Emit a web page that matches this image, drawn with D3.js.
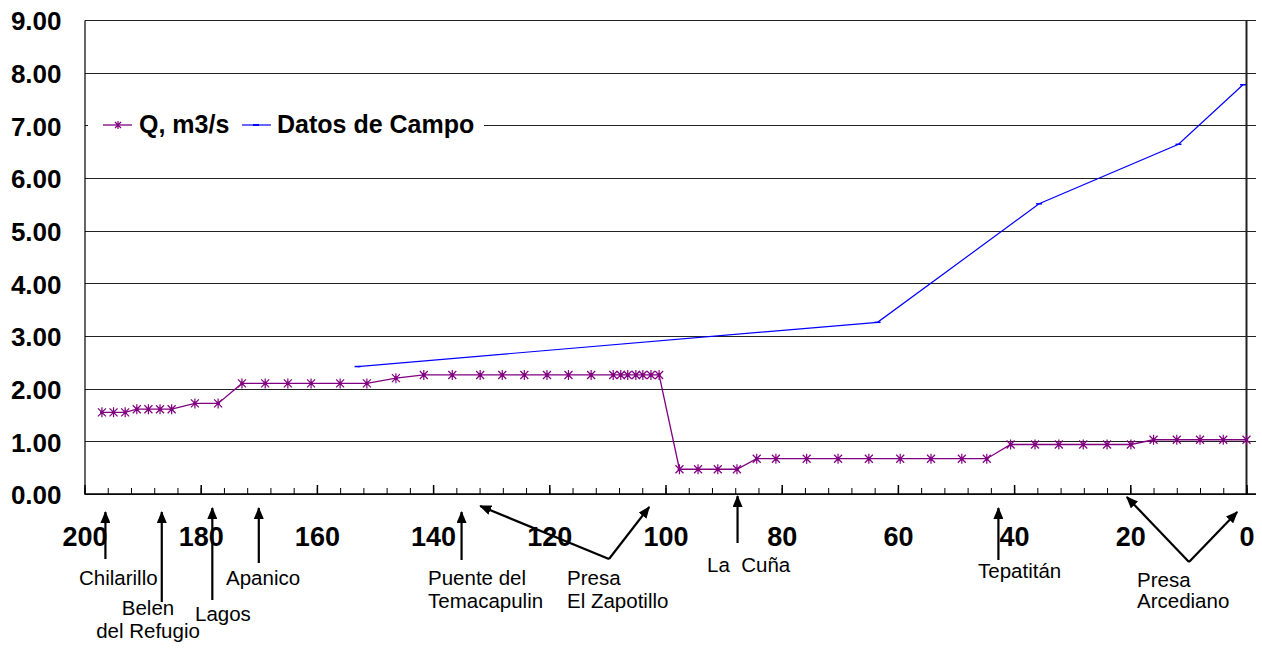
<!DOCTYPE html>
<html>
<head>
<meta charset="utf-8">
<script src="https://cdn.jsdelivr.net/npm/d3@7"></script>
<style>
	body { margin: 0; background: #fff; }
	text { font-family: Arial, "Liberation Sans", sans-serif; }
</style>
</head>
<body>
<div id="chart"></div>
<script>
// caudal Q (m3/s) a lo largo del cauce, km desde la presa Arcediano
const qKm = [197, 195, 193, 191, 189, 187, 185, 181, 177, 172.9, 168.9, 165, 161, 156, 151.4,
	146.4, 141.6, 136.7, 131.9, 128.1, 124.3, 120.4, 116.7, 112.8, 109.0, 107.7, 106.5, 105.1,
	103.9, 102.5, 101.1, 97.6, 94.4, 91.0, 87.7, 84.3, 81.0, 75.7, 70.3, 65.0, 59.6, 54.3, 49.0,
	44.7, 40.6, 36.4, 32.3, 28.1, 24.0, 19.9, 16.0, 12.0, 8.0, 4.0, 0];
const qValues = [1.55, 1.55, 1.55, 1.61, 1.61, 1.61, 1.61, 1.72, 1.72, 2.1, 2.1, 2.1, 2.1, 2.1, 2.1,
	2.2, 2.26, 2.26, 2.26, 2.26, 2.26, 2.26, 2.26, 2.26, 2.26, 2.26, 2.26, 2.26,
	2.26, 2.26, 2.26, 0.47, 0.47, 0.47, 0.47, 0.67, 0.67, 0.67, 0.67, 0.67, 0.67, 0.67, 0.67,
	0.67, 0.94, 0.94, 0.94, 0.94, 0.94, 0.94, 1.03, 1.03, 1.03, 1.03, 1.03];

// datos de campo
const campoKm = [153.0, 63.5, 35.7, 11.7, 0.6];
const campoValues = [2.42, 3.26, 5.51, 6.64, 7.77];

const seriesNames = ["Q, m3/s", "Datos de Campo"];
const yTicks = [0, 1, 2, 3, 4, 5, 6, 7, 8, 9];
const xTicks = [200, 180, 160, 140, 120, 100, 80, 60, 40, 20, 0];
const xMinorTicks = d3.range(0, 201, 4);

// sitios señalados bajo el eje
const stationNames = [["Chilarillo"], ["Belen", "del Refugio"], ["Lagos"], ["Apanico"],
	["Puente del", "Temacapulin"], ["Presa", "El Zapotillo"], ["La  Cuña"], ["Tepatitán"],
	["Presa", "Arcediano"]];
const stationKm = [[196.4], [186.7], [178.0], [170.0], [135.1], [131.9, 102.8], [87.6], [42.7], [20.6, 1.6]];

const w = 1262;
const h = 648;
const plotLeft = 84.5;
const plotRight = 1246.5;
const plotTop = 20;
const plotBottom = 494;
const gridEnd = 1256;
const purple = "#800080";
const blue = "#0000ff";

const xScale = d3.scaleLinear().domain([200, 0]).range([plotLeft, plotRight]);
const yScale = d3.scaleLinear().domain([0, 9]).range([plotBottom, plotTop]);

const svg = d3.select("#chart").append("svg").attr("width", w).attr("height", h);

// rejilla
svg.append("g")
	.attr("transform", "translate(" + plotLeft + ",0)")
	.call(d3.axisLeft(yScale).tickValues(yTicks).tickSize(-(gridEnd - plotLeft)).tickFormat(""))
	.call((g) => g.select(".domain").remove())
	.call((g) => g.selectAll("line").attr("stroke", "#222").attr("shape-rendering", "crispEdges"));

// eje y
const yAxis = svg.append("g")
	.attr("transform", "translate(" + plotLeft + ",0)")
	.call(d3.axisLeft(yScale).tickValues(yTicks).tickFormat(d3.format(".2f")).tickSize(0).tickPadding(23));
yAxis.select(".domain").attr("stroke", "#000").attr("stroke-width", 1.2);
yAxis.selectAll("text")
	.attr("dy", "0.38em")
	.style("font-size", "26px")
	.style("font-weight", "bold")
	.attr("fill", "#000");

// linea vertical en x = 0
svg.append("line")
	.attr("x1", xScale(0)).attr("x2", xScale(0))
	.attr("y1", plotTop).attr("y2", plotBottom)
	.attr("stroke", "#222").attr("stroke-width", 2);

// eje x
svg.append("g")
	.attr("transform", "translate(0," + plotBottom + ")")
	.call(d3.axisBottom(xScale).tickValues(xMinorTicks).tickSize(-6).tickFormat(""))
	.call((g) => g.select(".domain").attr("d", "M" + plotLeft + ",0H" + gridEnd).attr("stroke-width", 1.5));

const xAxis = svg.append("g")
	.attr("transform", "translate(0," + plotBottom + ")")
	.call(d3.axisBottom(xScale).tickValues(xTicks).tickSize(-9).tickPadding(33));
xAxis.select(".domain").remove();
xAxis.selectAll("line").attr("stroke-width", 1.5);
xAxis.selectAll("text")
	.style("font-size", "27px")
	.style("font-weight", "bold")
	.attr("fill", "#000");

// series
const qData = qKm.map((d, i) => [d, qValues[i]]);
const campoData = campoKm.map((d, i) => [d, campoValues[i]]);
const line = d3.line().x((d) => xScale(d[0])).y((d) => yScale(d[1]));

const starPath = "M-4,-4L4,4M-4,4L4,-4M0,-5L0,5";

svg.append("path")
	.datum(campoData)
	.attr("d", line)
	.attr("fill", "none")
	.attr("stroke", blue)
	.attr("stroke-width", 1.2);
svg.selectAll(".campo-mark")
	.data(campoData)
	.enter()
	.append("line")
	.attr("class", "campo-mark")
	.attr("x1", (d) => xScale(d[0]) - 3)
	.attr("x2", (d) => xScale(d[0]) + 3)
	.attr("y1", (d) => yScale(d[1]))
	.attr("y2", (d) => yScale(d[1]))
	.attr("stroke", blue)
	.attr("stroke-width", 1.5);

svg.append("path")
	.datum(qData)
	.attr("d", line)
	.attr("fill", "none")
	.attr("stroke", purple)
	.attr("stroke-width", 1.3);

const stars = svg.selectAll(".q-mark")
	.data(qData)
	.enter()
	.append("g")
	.attr("class", "q-mark")
	.attr("transform", (d) => "translate(" + xScale(d[0]) + "," + yScale(d[1]) + ")");
stars.append("path").attr("d", starPath).attr("stroke", purple).attr("stroke-width", 1.2);
stars.append("circle").attr("r", 1.8).attr("fill", purple);

// leyenda
const legend = svg.append("g");
legend.append("rect")
	.attr("x", 88).attr("y", 108).attr("width", 396).attr("height", 36)
	.attr("fill", "#fff");
legend.append("line")
	.attr("x1", 103).attr("x2", 132).attr("y1", 125).attr("y2", 125)
	.attr("stroke", purple).attr("stroke-width", 1.3);
legend.append("path")
	.attr("d", "M-3,-3L3,3M-3,3L3,-3M0,-4L0,4")
	.attr("transform", "translate(118,125)")
	.attr("stroke", purple).attr("stroke-width", 1.2);
legend.append("line")
	.attr("x1", 242).attr("x2", 271).attr("y1", 125).attr("y2", 125)
	.attr("stroke", blue).attr("stroke-width", 1.2);
legend.append("line")
	.attr("x1", 253).attr("x2", 259).attr("y1", 125).attr("y2", 125)
	.attr("stroke", blue).attr("stroke-width", 2);
legend.selectAll("text")
	.data(seriesNames)
	.enter()
	.append("text")
	.attr("x", (d, i) => [139, 277][i])
	.attr("y", 133)
	.style("font-size", "25px")
	.style("font-weight", "bold")
	.text((d) => d);

// anotaciones
svg.append("defs")
	.append("marker")
	.attr("id", "head")
	.attr("markerUnits", "userSpaceOnUse")
	.attr("viewBox", "0 0 12 10")
	.attr("refX", 11)
	.attr("refY", 5)
	.attr("markerWidth", 12)
	.attr("markerHeight", 10)
	.attr("orient", "auto")
	.append("path")
	.attr("d", "M0,0L12,5L0,10z")
	.attr("fill", "#000");

// colocacion: punta y, cola (y o punto), texto x izquierda y lineas base
const annoLayout = [
	{ tipY: 512, tail: 559, tx: 79, ty: [585] },
	{ tipY: 512, tail: 602, tx: 148, ty: [615, 638], anchor: "middle" },
	{ tipY: 508, tail: 600, tx: 195, ty: [621] },
	{ tipY: 508, tail: 563, tx: 226, ty: [585] },
	{ tipY: 512, tail: 560, tx: 428, ty: [585, 608] },
	{ tipY: [506, 507], tail: [609, 559], tx: 567, ty: [585, 608] },
	{ tipY: 496, tail: 543, tx: 707, ty: [572] },
	{ tipY: 508, tail: 560, tx: 978, ty: [578] },
	{ tipY: [497, 512], tail: [1189, 562], tx: 1137, ty: [587, 608] },
];

stationNames.forEach((lines, i) => {
	const lay = annoLayout[i];
	stationKm[i].forEach((km, j) => {
		const x2 = xScale(km);
		const y2 = Array.isArray(lay.tipY) ? lay.tipY[j] : lay.tipY;
		const x1 = Array.isArray(lay.tail) ? lay.tail[0] : x2;
		const y1 = Array.isArray(lay.tail) ? lay.tail[1] : lay.tail;
		svg.append("line")
			.attr("x1", x1).attr("y1", y1)
			.attr("x2", x2).attr("y2", y2)
			.attr("stroke", "#000")
			.attr("stroke-width", 2.2)
			.attr("marker-end", "url(#head)");
	});
	lines.forEach((t, k) => {
		svg.append("text")
			.attr("x", lay.tx)
			.attr("y", lay.ty[k])
			.attr("text-anchor", lay.anchor || "start")
			.style("font-size", "20.5px")
			.style("white-space", "pre")
			.text(t);
	});
});
</script>
</body>
</html>
